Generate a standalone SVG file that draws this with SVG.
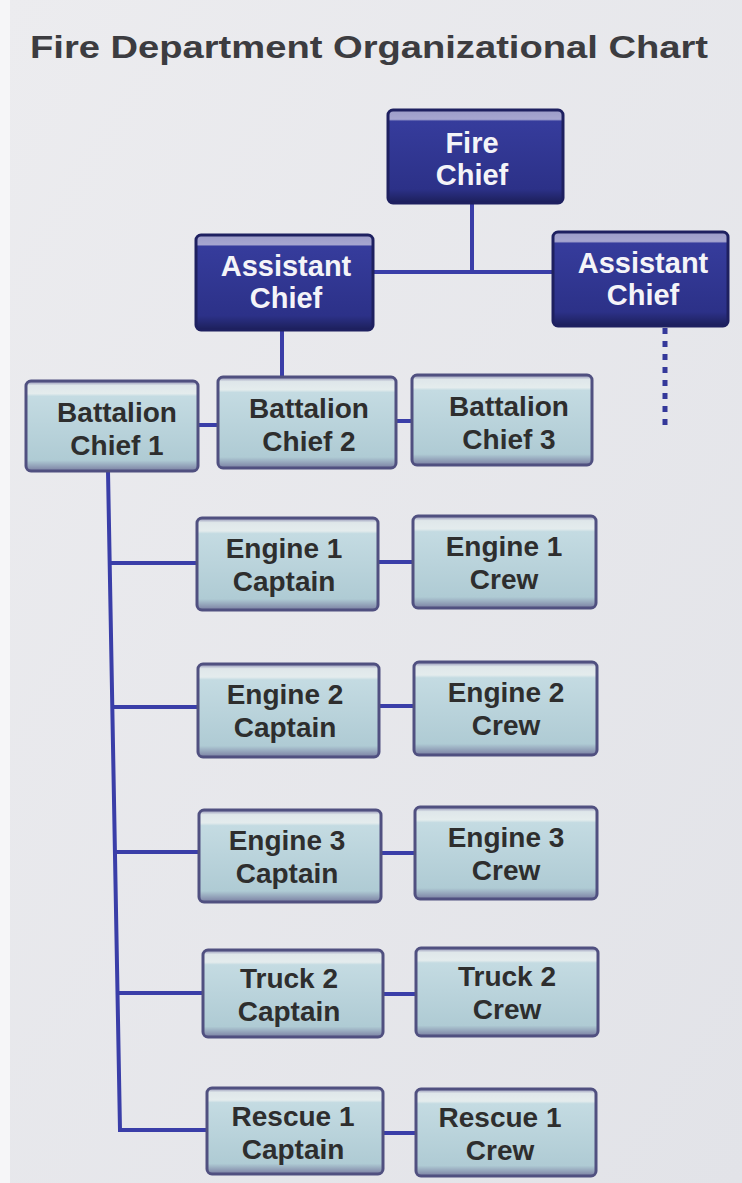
<svg xmlns="http://www.w3.org/2000/svg" width="742" height="1183" viewBox="0 0 742 1183">
<defs>
<linearGradient id="bg" x1="0" y1="0" x2="1" y2="1">
<stop offset="0" stop-color="#ececef"/>
<stop offset="1" stop-color="#e2e3e8"/>
</linearGradient>
<linearGradient id="gDark" x1="0" y1="0" x2="0" y2="1">
<stop offset="0" stop-color="#9c9cc8"/>
<stop offset="0.1" stop-color="#a6a6d0"/>
<stop offset="0.12" stop-color="#363c9c"/>
<stop offset="0.85" stop-color="#2c3188"/>
<stop offset="1" stop-color="#1c1f5a"/>
</linearGradient>
<linearGradient id="gLight" x1="0" y1="0" x2="0" y2="1">
<stop offset="0" stop-color="#8a8ab0"/>
<stop offset="0.05" stop-color="#dfe7ea"/>
<stop offset="0.14" stop-color="#e4eced"/>
<stop offset="0.17" stop-color="#c4dbe2"/>
<stop offset="0.88" stop-color="#afcbd4"/>
<stop offset="1" stop-color="#7a7fa2"/>
</linearGradient>
<style>
.dark rect{fill:url(#gDark);stroke:#1e2060;stroke-width:3}
.light rect{fill:url(#gLight);stroke:#505080;stroke-width:3}
.dark text{fill:#f4f4f8;font-family:"Liberation Sans",Arial,sans-serif;font-weight:bold;font-size:29px;text-anchor:middle}
.light text{fill:#2e2e2e;font-family:"Liberation Sans",Arial,sans-serif;font-weight:bold;font-size:28px;text-anchor:middle}
.conn{stroke:#3a3ea8;stroke-width:4;fill:none}
.dot{stroke:#34389a;stroke-width:5;fill:none;stroke-dasharray:6 7}
.title{fill:#3c3c40;font-family:"Liberation Sans",Arial,sans-serif;font-weight:bold;font-size:31px}
</style>
</defs>
<rect x="0" y="0" width="742" height="1183" fill="url(#bg)"/>
<rect x="0" y="0" width="10" height="1183" fill="#f6f6f8"/>
<text class="title" x="30" y="58" textLength="678" lengthAdjust="spacingAndGlyphs">Fire Department Organizational Chart</text>

<g id="connectors">
<polyline class="conn" points="472,203 472,272"/>
<polyline class="conn" points="373,272 553,272"/>
<polyline class="conn" points="282,330 282,378"/>
<polyline class="dot" points="665,328 665,432"/>
<polyline class="conn" points="198,425 218,425"/>
<polyline class="conn" points="396,421 412,421"/>
<polyline class="conn" points="108,471 120,1130 207,1130"/>
<polyline class="conn" points="111,563 197,563"/>
<polyline class="conn" points="113,707 198,707"/>
<polyline class="conn" points="116,852 199,852"/>
<polyline class="conn" points="118,993 203,993"/>
<polyline class="conn" points="378,562 413,562"/>
<polyline class="conn" points="379,706 414,706"/>
<polyline class="conn" points="381,853 415,853"/>
<polyline class="conn" points="383,994 416,994"/>
<polyline class="conn" points="383,1133 416,1133"/>
</g>

<g id="fire-chief" class="dark"><rect x="388" y="110" width="175" height="93" rx="5"/><text x="472" y="153">Fire</text><text x="472" y="185">Chief</text></g>
<g id="assistant-chief-1" class="dark"><rect x="196" y="235" width="177" height="95" rx="5"/><text x="286" y="276">Assistant</text><text x="286" y="308">Chief</text></g>
<g id="assistant-chief-2" class="dark"><rect x="553" y="232" width="175" height="94" rx="5"/><text x="643" y="273">Assistant</text><text x="643" y="305">Chief</text></g>

<g id="battalion-chief-1" class="light"><rect x="26" y="381" width="172" height="90" rx="5"/><text x="117" y="422">Battalion</text><text x="117" y="455">Chief 1</text></g>
<g id="battalion-chief-2" class="light"><rect x="218" y="377" width="178" height="91" rx="5"/><text x="309" y="418">Battalion</text><text x="309" y="451">Chief 2</text></g>
<g id="battalion-chief-3" class="light"><rect x="412" y="375" width="180" height="90" rx="5"/><text x="509" y="416">Battalion</text><text x="509" y="449">Chief 3</text></g>

<g id="engine1-captain" class="light"><rect x="197" y="518" width="181" height="92" rx="5"/><text x="284" y="558">Engine 1</text><text x="284" y="591">Captain</text></g>
<g id="engine1-crew" class="light"><rect x="413" y="516" width="183" height="92" rx="5"/><text x="504" y="556">Engine 1</text><text x="504" y="589">Crew</text></g>

<g id="engine2-captain" class="light"><rect x="198" y="664" width="181" height="93" rx="5"/><text x="285" y="704">Engine 2</text><text x="285" y="737">Captain</text></g>
<g id="engine2-crew" class="light"><rect x="414" y="662" width="183" height="93" rx="5"/><text x="506" y="702">Engine 2</text><text x="506" y="735">Crew</text></g>

<g id="engine3-captain" class="light"><rect x="199" y="810" width="182" height="92" rx="5"/><text x="287" y="850">Engine 3</text><text x="287" y="883">Captain</text></g>
<g id="engine3-crew" class="light"><rect x="415" y="807" width="182" height="92" rx="5"/><text x="506" y="847">Engine 3</text><text x="506" y="880">Crew</text></g>

<g id="truck2-captain" class="light"><rect x="203" y="950" width="180" height="87" rx="5"/><text x="289" y="988">Truck 2</text><text x="289" y="1021">Captain</text></g>
<g id="truck2-crew" class="light"><rect x="416" y="948" width="182" height="88" rx="5"/><text x="507" y="986">Truck 2</text><text x="507" y="1019">Crew</text></g>

<g id="rescue1-captain" class="light"><rect x="207" y="1088" width="176" height="86" rx="5"/><text x="293" y="1126">Rescue 1</text><text x="293" y="1159">Captain</text></g>
<g id="rescue1-crew" class="light"><rect x="416" y="1089" width="180" height="87" rx="5"/><text x="500" y="1127">Rescue 1</text><text x="500" y="1160">Crew</text></g>
</svg>
